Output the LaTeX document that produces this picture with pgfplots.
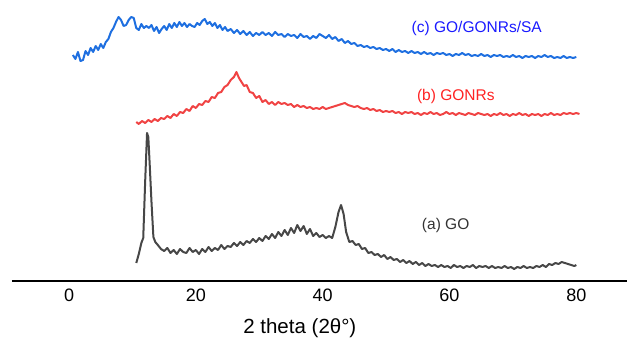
\documentclass[border=0pt]{standalone}
\usepackage{pgfplots}
\pgfplotsset{compat=1.18}
\usepackage{fontspec}
\setmainfont{Liberation Sans}
\usetikzlibrary{calc}
\definecolor{cgo}{HTML}{474747}
\definecolor{cred}{HTML}{F04343}
\definecolor{cblue}{HTML}{1E6FE0}
\definecolor{tblue}{HTML}{1A1AFF}
\definecolor{tred}{HTML}{FF2222}
\begin{document}
\begin{tikzpicture}
\begin{axis}[
  scale only axis, width=615pt, height=281pt,
  xmin=-9.0, xmax=88.0, ymin=61, ymax=342,
  axis x line*=bottom, axis y line=none,
  axis line style={-, line width=1.3pt},
  xtick={0,20,40,60,80}, major tick length=0pt,
  /pgf/number format/assume math mode=true,
  xticklabel style={font=\fontsize{18}{20}\selectfont, yshift=-4pt},
  xlabel={2 theta (2θ°)},
  xlabel style={font=\fontsize{20.5}{23}\selectfont, at={(axis description cs:0.468,0)}, anchor=center, yshift=-47pt},
  clip=false,
  every axis plot/.append style={line width=2pt, line join=round}
]
\addplot[cgo] coordinates {
(10.6,79)(11.0,88)(11.4,99)(11.7,104)(12.0,160)(12.3,209)(12.5,205)(12.7,180)(13.0,140)(13.3,105)(13.6,100)(14.0,97)(14.5,93)(15.0,91)(15.5,94)(16.0,89)(16.5,92)(17.0,88)(17.5,93)(18.0,90)(18.5,89)(19.0,94)(19.5,90)(20.0,92)(20.5,88)(21.0,93)(21.5,90)(22.0,95)(22.5,91)(23.0,94)(23.5,92)(24.0,97)(24.5,93)(25.0,96)(25.5,95)(26.0,99)(26.5,96)(27.0,100)(27.5,97)(28.0,101)(28.5,99)(29.0,103)(29.5,100)(30.0,104)(30.5,101)(31.0,106)(31.5,103)(32.0,108)(32.5,104)(33.0,110)(33.5,106)(34.0,112)(34.5,107)(35.0,114)(35.5,109)(36.0,117)(36.5,111)(37.0,116)(37.5,108)(38.0,113)(38.5,106)(39.0,109)(39.5,105)(40.0,107)(40.5,104)(41.0,106)(41.5,104)(42.0,115)(42.5,130)(42.9,137)(43.3,128)(43.7,110)(44.2,100)(44.7,101)(45.2,97)(45.7,98)(46.2,93)(46.7,94)(47.2,89)(47.7,90)(48.2,87)(48.7,88)(49.2,85)(49.7,87)(50.2,83)(50.7,85)(51.2,82)(51.7,83)(52.2,80)(52.7,82)(53.2,79)(53.7,81)(54.2,78)(54.7,80)(55.2,77)(55.7,79)(56.2,76)(56.7,78)(57.2,76)(57.7,77)(58.2,75)(58.7,77)(59.2,75)(59.7,76)(60.2,74)(60.7,77)(61.2,75)(61.7,76)(62.2,74)(62.7,76)(63.2,75)(63.7,77)(64.2,74)(64.7,76)(65.2,75)(65.7,76)(66.2,74)(66.7,76)(67.2,74)(67.7,75)(68.2,74)(68.7,76)(69.2,74)(69.7,75)(70.2,73)(70.7,75)(71.2,74)(71.7,76)(72.2,74)(72.7,75)(73.2,74)(73.7,76)(74.2,75)(74.7,77)(75.2,75)(75.7,78)(76.2,77)(76.7,79)(77.2,78)(77.7,80)(78.2,79)(78.7,78)(79.2,77)(79.7,76)(80.0,77)
};
\addplot[cred] coordinates {
(10.6,220)(11.0,218)(11.5,221)(12.0,219)(12.5,222)(13.0,220)(13.5,223)(14.0,221)(14.5,224)(15.0,223)(15.5,226)(16.0,224)(16.5,228)(17.0,226)(17.5,230)(18.0,229)(18.5,233)(19.0,231)(19.5,236)(20.0,234)(20.5,238)(21.0,237)(21.5,241)(22.0,240)(22.5,245)(23.0,244)(23.5,249)(24.0,250)(24.5,255)(25.0,257)(25.5,262)(26.0,265)(26.4,270)(26.8,264)(27.2,260)(27.6,256)(28.0,257)(28.5,250)(29.0,249)(29.5,244)(30.0,246)(30.5,240)(31.0,242)(31.5,238)(32.0,240)(32.5,237)(33.0,240)(33.5,238)(34.0,239)(34.5,237)(35.0,238)(35.5,235)(36.0,237)(36.5,235)(37.0,236)(37.5,234)(38.0,235)(38.5,233)(39.0,234)(39.5,233)(40.0,235)(40.5,233)(41.0,234)(41.5,235)(42.0,236)(42.5,237)(43.0,238)(43.5,239)(44.0,237)(44.5,236)(45.0,235)(45.5,236)(46.0,234)(46.5,233)(47.0,234)(47.5,232)(48.0,233)(48.5,231)(49.0,232)(49.5,230)(50.0,231)(50.5,230)(51,231)(51.5,229)(52,230)(52.5,228)(53,230)(53.5,229)(54,230)(54.5,228)(55,229)(55.5,227)(56,229)(56.5,228)(57,230)(57.5,228)(58,229)(58.5,227)(59,228)(59.5,230)(60,228)(60.5,229)(61,227)(61.5,229)(62,228)(62.5,227)(63,229)(63.5,228)(64,227)(64.5,229)(65,228)(65.5,227)(66,228)(66.5,226)(67,228)(67.5,227)(68,229)(68.5,227)(69,228)(69.5,226)(70,228)(70.5,227)(71,229)(71.5,227)(72,228)(72.5,226)(73,228)(73.5,227)(74,228)(74.5,226)(75,228)(75.5,227)(76,229)(76.5,227)(77,228)(77.5,227)(78,229)(78.5,228)(79,229)(79.5,228)(80,229)(80.5,228)
};
\addplot[cblue] coordinates {
(0.6,287)(1.0,283)(1.4,290)(1.8,281)(2.2,282)(2.6,291)(3.0,287)(3.4,294)(3.8,290)(4.2,296)(4.6,292)(5.0,298)(5.4,294)(5.8,300)(6.2,303)(6.6,310)(7.0,314)(7.4,320)(7.8,325)(8.2,322)(8.6,316)(9.0,317)(9.4,322)(9.8,325)(10.2,324)(10.6,314)(11.0,312)(11.4,318)(11.8,314)(12.2,316)(12.6,314)(13.0,317)(13.4,311)(13.8,315)(14.2,309)(14.6,313)(15.0,316)(15.4,312)(15.8,318)(16.2,314)(16.6,319)(17.0,315)(17.4,320)(17.8,316)(18.2,319)(18.6,315)(19.0,318)(19.4,316)(19.8,315)(20.2,319)(20.6,317)(21.0,321)(21.4,323)(21.8,318)(22.2,320)(22.6,316)(23.0,319)(23.4,314)(23.8,317)(24.2,312)(24.6,315)(25.0,311)(25.5,313)(26.0,309)(26.5,312)(27.0,308)(27.5,311)(28.0,307)(28.5,310)(29.0,306)(29.5,309)(30.0,307)(30.5,310)(31.0,307)(31.5,309)(32.0,306)(32.5,310)(33.0,307)(33.5,308)(34.0,305)(34.5,308)(35.0,306)(35.5,307)(36.0,304)(36.5,308)(37.0,305)(37.5,306)(38.0,303)(38.5,306)(39.0,304)(39.5,308)(40.0,306)(40.5,304)(41.0,307)(41.5,303)(42.0,305)(42.5,301)(43.0,303)(43.5,299)(44.0,301)(44.5,298)(45.0,299)(45.5,296)(46.0,297)(46.5,295)(47.0,296)(47.5,294)(48.0,295)(48.5,293)(49.0,294)(49.5,292)(50.0,293)(50.5,291)(51,293)(51.5,290)(52,292)(52.5,290)(53,291)(53.5,289)(54,291)(54.5,289)(55,290)(55.5,288)(56,290)(56.5,288)(57,289)(57.5,287)(58,289)(58.5,288)(59,289)(59.5,287)(60,288)(60.5,286)(61,288)(61.5,287)(62,289)(62.5,287)(63,288)(63.5,286)(64,287)(64.5,286)(65,288)(65.5,286)(66,287)(66.5,285)(67,287)(67.5,286)(68,287)(68.5,285)(69,286)(69.5,285)(70,287)(70.5,285)(71,286)(71.5,284)(72,286)(72.5,285)(73,286)(73.5,284)(74,286)(74.5,285)(75,287)(75.5,285)(76,286)(76.5,284)(77,285)(77.5,284)(78,286)(78.5,284)(79,285)(79.5,284)(80,285)
};
\node[text=black!80, font=\fontsize{15.5}{17}\selectfont] at (axis cs:59.4,117) {(a) GO};
\node[text=tred, font=\fontsize{15.5}{17}\selectfont] at (axis cs:61.0,246) {(b) GONRs};
\node[text=tblue, font=\fontsize{15.5}{17}\selectfont] at (axis cs:64.3,314) {(c) GO/GONRs/SA};
\end{axis}
\pgfresetboundingbox
\path ($(current axis.south west)+(-12pt,-61pt)$) rectangle (current axis.north east);
\end{tikzpicture}
\end{document}
